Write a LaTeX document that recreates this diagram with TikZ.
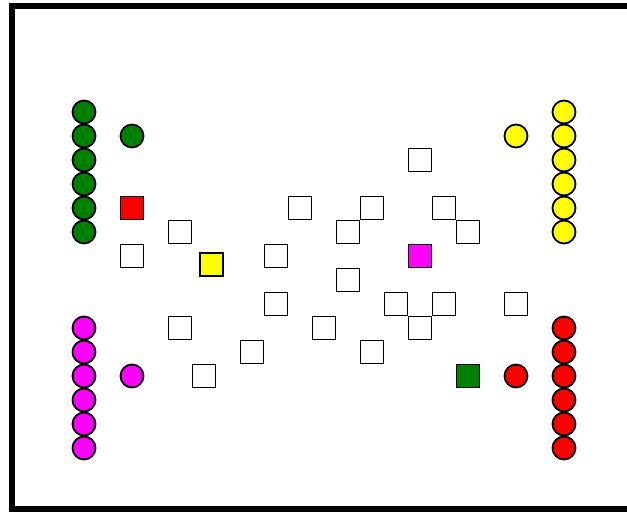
\documentclass[tikz,border=0pt]{standalone}
\definecolor{dgreen}{RGB}{0,128,0}
\definecolor{pmag}{RGB}{255,0,255}
\definecolor{pred}{RGB}{255,0,0}
\definecolor{pyel}{RGB}{255,255,0}
\begin{document}
\begin{tikzpicture}[x=1pt,y=-1pt,
  tok/.style={circle,draw=black,line width=1.8pt,minimum size=23pt,inner sep=0pt},
  cell/.style={rectangle,draw=black,line width=1.8pt,minimum size=23pt,inner sep=0pt,fill=white}]
\useasboundingbox (0,0) rectangle (627,512);
\draw[line width=6pt,line join=miter] (640,6) -- (12,6) -- (12,509) -- (640,509);
% columns of tokens
\foreach \i in {0,...,5}{
  \node[tok,fill=dgreen] (g\i) at (84,112+24*\i) {};
  \node[tok,fill=pyel]   (y\i) at (564,112+24*\i) {};
  \node[tok,fill=pmag]   (m\i) at (84,328+24*\i) {};
  \node[tok,fill=pred]   (r\i) at (564,328+24*\i) {};
}
% single tokens
\node[tok,fill=dgreen] (gs) at (132,136) {};
\node[tok,fill=pyel]   (ys) at (516,136) {};
\node[tok,fill=pmag]   (ms) at (132,376) {};
\node[tok,fill=pred]   (rs) at (516,376) {};
% coloured cells
\node[cell,fill=pred]   (cr) at (132,208) {};
\node[cell,fill=pyel]   (cy) at (211.5,264.5) {};
\node[cell,fill=pmag]   (cm) at (420,256) {};
\node[cell,fill=dgreen] (cg) at (468,376) {};
% white cells
\node[cell] (w1) at (180,232) {};
\node[cell] (w2) at (132,256) {};
\node[cell] (w3) at (300,208) {};
\node[cell] (w4) at (276,256) {};
\node[cell] (w5) at (348,232) {};
\node[cell] (w6) at (372,208) {};
\node[cell] (w7) at (420,160) {};
\node[cell] (w8) at (444,208) {};
\node[cell] (w9) at (468,232) {};
\node[cell] (w10) at (348,280) {};
\node[cell] (w11) at (276,304) {};
\node[cell] (w12) at (396,304) {};
\node[cell] (w13) at (444,304) {};
\node[cell] (w14) at (420,328) {};
\node[cell] (w15) at (516,304) {};
\node[cell] (w16) at (180,328) {};
\node[cell] (w17) at (324,328) {};
\node[cell] (w18) at (252,352) {};
\node[cell] (w19) at (372,352) {};
\node[cell] (w20) at (204,376) {};
\end{tikzpicture}
\end{document}
